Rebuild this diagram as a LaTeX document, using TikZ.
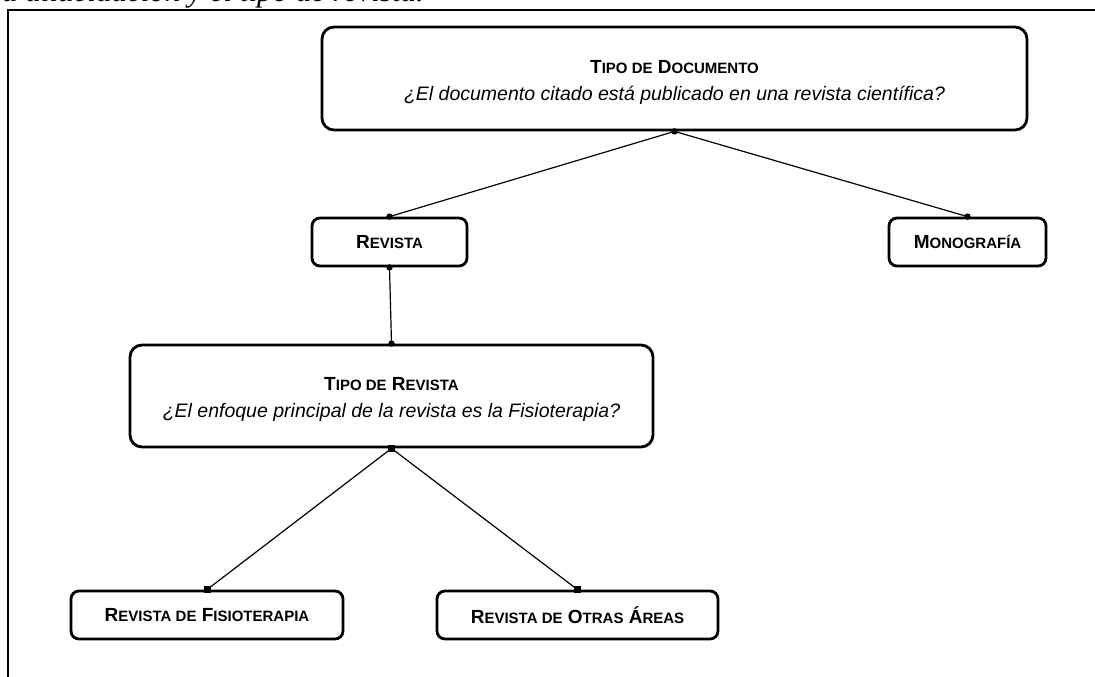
\documentclass[tikz,border=0pt]{standalone}
\usepackage{fontspec}
\setmainfont{Liberation Serif}
\setsansfont{Liberation Sans}
\newcommand{\capsm}[1]{{\fontsize{15}{17}\selectfont #1}}
\tikzset{
  bigbox/.style={draw,line width=2.8pt,rounded corners=12pt,font=\sffamily\fontsize{19}{27}\selectfont,align=center},
  smallbox/.style={draw,line width=2.8pt,rounded corners=8pt,font=\sffamily\bfseries\fontsize{19}{21}\selectfont,minimum height=48pt},
  conn/.style={line width=1.2pt}
}
\begin{document}
\begin{tikzpicture}[x=1pt,y=-1pt]
	\useasboundingbox (0,0) rectangle (1095,677);
	\clip (0,0) rectangle (1095,677);
	\node[anchor=base east,inner sep=0pt,font=\itshape\fontsize{31}{33}\selectfont] (caption) at (424,1.5) {la dilucidación y el tipo de revista.};
	\draw[line width=2.3pt] (8,677) -- (8,10) -- (1095,10);
	\node[bigbox,minimum width=705pt,minimum height=103pt] (tipodoc) at (674.5,78.5)
		{\rule{0pt}{21pt}{\bfseries T\capsm{IPO DE} D\capsm{OCUMENTO}}\\ \itshape {\fontsize{19.5}{27}\selectfont ¿El documento citado está publicado en una revista científica?}};
	\node[smallbox,minimum width=155pt] (revista) at (389.5,242) {R\capsm{EVISTA}};
	\node[smallbox,minimum width=157pt] (monografia) at (967.5,242) {M\capsm{ONOGRAFÍA}};
	\node[bigbox,minimum width=523pt,minimum height=102pt] (tiporev) at (391.5,396)
		{\rule{0pt}{21pt}{\bfseries T\capsm{IPO DE} R\capsm{EVISTA}}\\ \itshape {\fontsize{19.5}{27}\selectfont ¿El enfoque principal de la revista es la Fisioterapia?}};
	\node[smallbox,minimum width=272pt] (revfisio) at (207,615) {R\capsm{EVISTA DE} F\capsm{ISIOTERAPIA}};
	\node[smallbox,minimum width=281pt] (revotras) at (577.5,615) {R\capsm{EVISTA DE} O\capsm{TRAS} Á\capsm{REAS}};
	% conectores
	\draw[conn] (tipodoc.south) -- (revista.north);
	\draw[conn] (tipodoc.south) -- (monografia.north);
	\draw[conn] (revista.south) -- (tiporev.north);
	\draw[conn] (tiporev.south) -- (revfisio.north);
	\draw[conn] (tiporev.south) -- (revotras.north);
	\foreach \p in {tipodoc.south,revista.north,monografia.north,revista.south,tiporev.north}
		\fill (\p) circle(3.2pt);
	\foreach \p in {tiporev.south,revfisio.north,revotras.north}
		\fill (\p) +(-3.5,-3.5) rectangle +(3.5,3.5);
\end{tikzpicture}
\end{document}
